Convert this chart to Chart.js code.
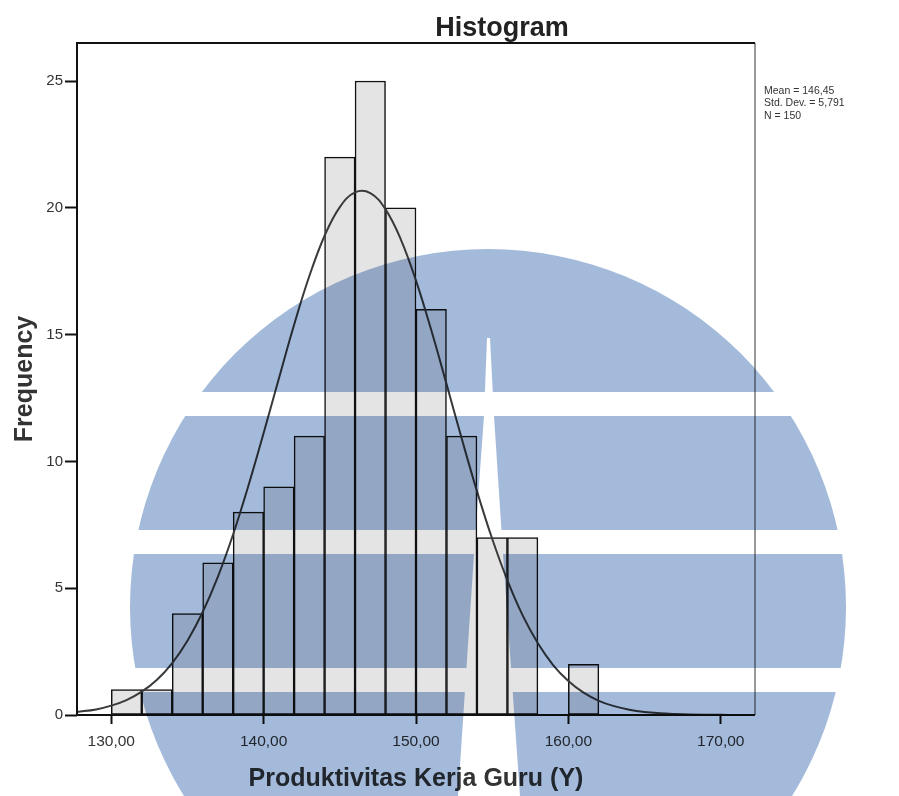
<!DOCTYPE html>
<html>
<head>
<meta charset="utf-8">
<title>Histogram</title>
<script src="https://cdn.jsdelivr.net/npm/chart.js@4"></script>
<style>
  html, body { margin: 0; padding: 0; background: #fff; }
  #wrap { width: 899px; height: 796px; }
</style>
</head>
<body>
<div id="wrap"><canvas id="histChart"></canvas></div>
<script>
// histogram bins (lower edge) and counts
const binStarts = [130, 132, 134, 136, 138, 140, 142, 144, 146, 148, 150, 152, 154, 156, 158, 160];
const binWidth = 2;
const frequencies = [1, 1, 4, 6, 8, 9, 11, 22, 25, 20, 16, 11, 7, 7, 0, 2];

// normal curve
const curveX = [127.75, 129, 130, 131, 132, 133, 134, 135, 136, 137, 138, 139, 140, 141, 142, 143, 144, 145, 146, 147, 148, 149, 150,
  151, 152, 153, 154, 155, 156, 157, 158, 159, 160, 161, 162, 163, 164, 165, 166, 167, 168, 169, 170, 171, 172.25];
const curveY = [0.12, 0.22, 0.37, 0.59, 0.92, 1.39, 2.05, 2.93, 4.06, 5.46, 7.13, 9.04, 11.12, 13.27, 15.39, 17.31, 18.9, 20.03, 20.61, 20.58, 19.94, 18.76, 17.13,
  15.18, 13.06, 10.9, 8.83, 6.95, 5.31, 3.93, 2.83, 1.97, 1.34, 0.88, 0.56, 0.35, 0.21, 0.12, 0.07, 0.04, 0.02, 0.01, 0.005, 0.002, 0.001];

const xTicks = [130, 140, 150, 160, 170];
const yTicks = [0, 5, 10, 15, 20, 25];
const chartTitle = 'Histogram';
const xTitle = 'Produktivitas Kerja Guru (Y)';
const yTitle = 'Frequency';
const statsLines = ['Mean = 146,45', 'Std. Dev. = 5,791', 'N = 150'];

const FONT = "'Liberation Sans', Arial, sans-serif";

const bars = binStarts.map((lo, i) => ({ x: lo + binWidth / 2, y: frequencies[i] }));
const curve = curveX.map((x, i) => ({ x: x, y: curveY[i] }));

// white page, plot frame, title and stats box
const decor = {
  id: 'decor',
  beforeDraw(chart) {
    const ctx = chart.ctx;
    ctx.save();
    ctx.fillStyle = '#fff';
    ctx.fillRect(0, 0, chart.width, chart.height);
    ctx.restore();
  },
  afterDatasetsDraw(chart) {
    const { ctx, chartArea: a } = chart;
    ctx.save();
    ctx.strokeStyle = '#777';
    ctx.lineWidth = 1.5;
    ctx.beginPath();
    ctx.moveTo(a.right, a.top);
    ctx.lineTo(a.right, a.bottom);
    ctx.stroke();
    ctx.strokeStyle = '#111';
    ctx.lineWidth = 2;
    ctx.beginPath();
    ctx.moveTo(a.right, a.top);
    ctx.lineTo(a.left, a.top);
    ctx.lineTo(a.left, a.bottom);
    ctx.lineTo(a.right, a.bottom);
    ctx.stroke();

    ctx.fillStyle = '#222';
    ctx.font = 'bold 27px ' + FONT;
    ctx.textAlign = 'center';
    ctx.textBaseline = 'middle';
    ctx.fillText(chartTitle, 502, 29);

    ctx.fillStyle = '#333';
    ctx.font = '10.5px ' + FONT;
    ctx.textAlign = 'left';
    statsLines.forEach((t, i) => ctx.fillText(t, 764, 91 + i * 12.5));
    ctx.restore();
  }
};

// the blue logo printed over the scan
const watermark = {
  id: 'watermark',
  afterDraw(chart) {
    const W = chart.width, H = chart.height;
    const off = document.createElement('canvas');
    off.width = W; off.height = H;
    const o = off.getContext('2d');
    o.fillStyle = '#a4badb';
    o.beginPath();
    o.arc(488, 607, 358, 0, Math.PI * 2);
    o.fill();
    o.globalCompositeOperation = 'destination-out';
    [[392, 416], [530, 554], [668, 692]].forEach(s => o.fillRect(0, s[0], W, s[1] - s[0]));
    o.beginPath();
    o.moveTo(487, 338); o.lineTo(490, 338); o.lineTo(494, 416); o.lineTo(503, 554);
    o.lineTo(520, 796); o.lineTo(458, 796); o.lineTo(474, 554); o.lineTo(484, 416);
    o.closePath();
    o.fill();
    const ctx = chart.ctx;
    ctx.save();
    ctx.globalCompositeOperation = 'multiply';
    ctx.drawImage(off, 0, 0);
    ctx.restore();
  }
};

const fmt = v => Number(v).toFixed(2).replace('.', ',');

new Chart(document.getElementById('histChart'), {
  type: 'bar',
  data: {
    datasets: [
      {
        type: 'line',
        data: curve,
        borderColor: '#3a3a3a',
        borderWidth: 2,
        pointRadius: 0,
        tension: 0.4,
        fill: false,
        order: 0
      },
      {
        type: 'bar',
        data: bars,
        backgroundColor: '#e4e4e4',
        borderColor: '#111',
        borderWidth: 1.5,
        borderSkipped: false,
        barPercentage: 1,
        categoryPercentage: 1,
        order: 1
      }
    ]
  },
  options: {
    responsive: true,
    maintainAspectRatio: false,
    animation: false,
    layout: { padding: { top: 43, right: 144, left: 0, bottom: 0 } },
    plugins: {
      legend: { display: false },
      tooltip: { enabled: false }
    },
    scales: {
      x: {
        type: 'linear',
        min: 127.75,
        max: 172.25,
        offset: false,
        afterBuildTicks: s => { s.ticks = xTicks.map(v => ({ value: v })); },
        afterFit: s => { s.height = 81; },
        ticks: {
          callback: v => fmt(v),
          font: { family: FONT, size: 15.5 },
          color: '#333',
          padding: 8,
          maxRotation: 0,
          autoSkip: false
        },
        grid: { drawOnChartArea: false, drawTicks: true, tickLength: 9, tickColor: '#111', tickWidth: 2, offset: false },
        border: { display: false },
        title: {
          display: true,
          text: xTitle,
          font: { family: FONT, size: 25, weight: 'bold' },
          color: '#333',
          padding: { top: 0, bottom: 2 }
        }
      },
      y: {
        min: 0,
        max: 26.5,
        afterBuildTicks: s => { s.ticks = yTicks.map(v => ({ value: v })); },
        afterFit: s => { s.width = 77; },
        ticks: {
          font: { family: FONT, size: 15 },
          color: '#333',
          padding: 2
        },
        grid: { drawOnChartArea: false, drawTicks: true, tickLength: 12, tickColor: '#111', tickWidth: 2 },
        border: { display: false },
        title: {
          display: true,
          text: yTitle,
          font: { family: FONT, size: 25, weight: 'bold' },
          color: '#333',
          padding: { top: 10, bottom: 0 }
        }
      }
    }
  },
  plugins: [decor, watermark]
});
</script>
</body>
</html>
